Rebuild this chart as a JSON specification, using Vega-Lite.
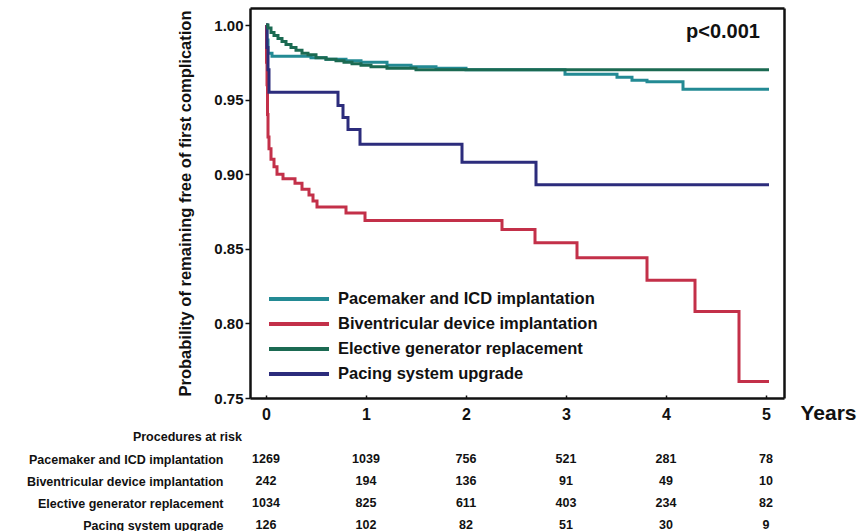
{
  "$schema": "https://vega.github.io/schema/vega-lite/v6.json",
  "background": "white",
  "padding": {"left": 26, "top": 8, "right": 5, "bottom": 0},
  "autosize": {"type": "pad"},
  "bounds": "flush",
  "spacing": 39,
  "config": {"font": "Liberation Sans", "axis": {"grid": false}, "view": {"stroke": null}},
  "datasets": {
    "curves": [
      {"group": "Pacemaker and ICD implantation", "year": 0, "prob": 1.0},
      {"group": "Pacemaker and ICD implantation", "year": 0.01, "prob": 0.99},
      {"group": "Pacemaker and ICD implantation", "year": 0.02, "prob": 0.981},
      {"group": "Pacemaker and ICD implantation", "year": 0.06, "prob": 0.979},
      {"group": "Pacemaker and ICD implantation", "year": 0.45, "prob": 0.978},
      {"group": "Pacemaker and ICD implantation", "year": 0.6, "prob": 0.977},
      {"group": "Pacemaker and ICD implantation", "year": 0.8, "prob": 0.976},
      {"group": "Pacemaker and ICD implantation", "year": 0.95, "prob": 0.975},
      {"group": "Pacemaker and ICD implantation", "year": 1.21, "prob": 0.973},
      {"group": "Pacemaker and ICD implantation", "year": 1.45, "prob": 0.972},
      {"group": "Pacemaker and ICD implantation", "year": 1.7, "prob": 0.971},
      {"group": "Pacemaker and ICD implantation", "year": 2.0, "prob": 0.97},
      {"group": "Pacemaker and ICD implantation", "year": 2.99, "prob": 0.967},
      {"group": "Pacemaker and ICD implantation", "year": 3.51, "prob": 0.965},
      {"group": "Pacemaker and ICD implantation", "year": 3.66, "prob": 0.963},
      {"group": "Pacemaker and ICD implantation", "year": 3.81, "prob": 0.962},
      {"group": "Pacemaker and ICD implantation", "year": 4.17, "prob": 0.957},
      {"group": "Pacemaker and ICD implantation", "year": 5.03, "prob": 0.957},
      {"group": "Biventricular device implantation", "year": 0, "prob": 1.0},
      {"group": "Biventricular device implantation", "year": 0.005, "prob": 0.975},
      {"group": "Biventricular device implantation", "year": 0.01, "prob": 0.96},
      {"group": "Biventricular device implantation", "year": 0.015, "prob": 0.94},
      {"group": "Biventricular device implantation", "year": 0.02, "prob": 0.925},
      {"group": "Biventricular device implantation", "year": 0.03, "prob": 0.917},
      {"group": "Biventricular device implantation", "year": 0.05, "prob": 0.91},
      {"group": "Biventricular device implantation", "year": 0.08, "prob": 0.905},
      {"group": "Biventricular device implantation", "year": 0.11, "prob": 0.9},
      {"group": "Biventricular device implantation", "year": 0.17, "prob": 0.897},
      {"group": "Biventricular device implantation", "year": 0.29, "prob": 0.894},
      {"group": "Biventricular device implantation", "year": 0.36, "prob": 0.89},
      {"group": "Biventricular device implantation", "year": 0.43, "prob": 0.886},
      {"group": "Biventricular device implantation", "year": 0.47, "prob": 0.882},
      {"group": "Biventricular device implantation", "year": 0.51, "prob": 0.878},
      {"group": "Biventricular device implantation", "year": 0.8, "prob": 0.874},
      {"group": "Biventricular device implantation", "year": 0.99, "prob": 0.869},
      {"group": "Biventricular device implantation", "year": 2.36, "prob": 0.863},
      {"group": "Biventricular device implantation", "year": 2.69, "prob": 0.854},
      {"group": "Biventricular device implantation", "year": 3.11, "prob": 0.844},
      {"group": "Biventricular device implantation", "year": 3.81, "prob": 0.829},
      {"group": "Biventricular device implantation", "year": 4.29, "prob": 0.808},
      {"group": "Biventricular device implantation", "year": 4.73, "prob": 0.761},
      {"group": "Biventricular device implantation", "year": 5.03, "prob": 0.761},
      {"group": "Pacing system upgrade", "year": 0, "prob": 1.0},
      {"group": "Pacing system upgrade", "year": 0.01, "prob": 0.985},
      {"group": "Pacing system upgrade", "year": 0.02, "prob": 0.97},
      {"group": "Pacing system upgrade", "year": 0.03, "prob": 0.955},
      {"group": "Pacing system upgrade", "year": 0.72, "prob": 0.946},
      {"group": "Pacing system upgrade", "year": 0.77, "prob": 0.938},
      {"group": "Pacing system upgrade", "year": 0.82, "prob": 0.93},
      {"group": "Pacing system upgrade", "year": 0.94, "prob": 0.92},
      {"group": "Pacing system upgrade", "year": 1.96, "prob": 0.908},
      {"group": "Pacing system upgrade", "year": 2.7, "prob": 0.893},
      {"group": "Pacing system upgrade", "year": 5.03, "prob": 0.893},
      {"group": "Elective generator replacement", "year": 0, "prob": 1.0},
      {"group": "Elective generator replacement", "year": 0.02, "prob": 0.998},
      {"group": "Elective generator replacement", "year": 0.05, "prob": 0.995},
      {"group": "Elective generator replacement", "year": 0.08, "prob": 0.993},
      {"group": "Elective generator replacement", "year": 0.12, "prob": 0.991},
      {"group": "Elective generator replacement", "year": 0.16, "prob": 0.989},
      {"group": "Elective generator replacement", "year": 0.2, "prob": 0.987},
      {"group": "Elective generator replacement", "year": 0.25, "prob": 0.985},
      {"group": "Elective generator replacement", "year": 0.3, "prob": 0.983},
      {"group": "Elective generator replacement", "year": 0.36, "prob": 0.981},
      {"group": "Elective generator replacement", "year": 0.42, "prob": 0.98},
      {"group": "Elective generator replacement", "year": 0.5, "prob": 0.978},
      {"group": "Elective generator replacement", "year": 0.6, "prob": 0.977},
      {"group": "Elective generator replacement", "year": 0.7, "prob": 0.976},
      {"group": "Elective generator replacement", "year": 0.78, "prob": 0.975},
      {"group": "Elective generator replacement", "year": 0.86, "prob": 0.974},
      {"group": "Elective generator replacement", "year": 0.95, "prob": 0.973},
      {"group": "Elective generator replacement", "year": 1.05, "prob": 0.972},
      {"group": "Elective generator replacement", "year": 1.21, "prob": 0.971},
      {"group": "Elective generator replacement", "year": 1.5, "prob": 0.97},
      {"group": "Elective generator replacement", "year": 5.03, "prob": 0.97}
    ],
    "risk": [
      {"group": "Pacemaker and ICD implantation", "year": 0, "n": 1269},
      {"group": "Pacemaker and ICD implantation", "year": 1, "n": 1039},
      {"group": "Pacemaker and ICD implantation", "year": 2, "n": 756},
      {"group": "Pacemaker and ICD implantation", "year": 3, "n": 521},
      {"group": "Pacemaker and ICD implantation", "year": 4, "n": 281},
      {"group": "Pacemaker and ICD implantation", "year": 5, "n": 78},
      {"group": "Biventricular device implantation", "year": 0, "n": 242},
      {"group": "Biventricular device implantation", "year": 1, "n": 194},
      {"group": "Biventricular device implantation", "year": 2, "n": 136},
      {"group": "Biventricular device implantation", "year": 3, "n": 91},
      {"group": "Biventricular device implantation", "year": 4, "n": 49},
      {"group": "Biventricular device implantation", "year": 5, "n": 10},
      {"group": "Elective generator replacement", "year": 0, "n": 1034},
      {"group": "Elective generator replacement", "year": 1, "n": 825},
      {"group": "Elective generator replacement", "year": 2, "n": 611},
      {"group": "Elective generator replacement", "year": 3, "n": 403},
      {"group": "Elective generator replacement", "year": 4, "n": 234},
      {"group": "Elective generator replacement", "year": 5, "n": 82},
      {"group": "Pacing system upgrade", "year": 0, "n": 126},
      {"group": "Pacing system upgrade", "year": 1, "n": 102},
      {"group": "Pacing system upgrade", "year": 2, "n": 82},
      {"group": "Pacing system upgrade", "year": 3, "n": 51},
      {"group": "Pacing system upgrade", "year": 4, "n": 30},
      {"group": "Pacing system upgrade", "year": 5, "n": 9}
    ]
  },
  "vconcat": [
    {
      "width": 534,
      "height": 390,
      "resolve": {"axis": {"x": "independent", "y": "independent"}},
      "layer": [
        {
          "data": {"name": "curves"},
          "mark": {"type": "line", "interpolate": "step-after", "strokeWidth": 3},
          "encoding": {
            "x": {
              "field": "year", "type": "quantitative",
              "scale": {"domain": [-0.16, 5.18], "nice": false, "zero": false},
              "axis": {
                "values": [0, 1, 2, 3, 4, 5], "format": "d", "labelFontSize": 16, "labelFontWeight": "bold",
                "labelColor": "#111", "tickSize": -3, "tickColor": "#111", "tickWidth": 1.5,
                "domain": true, "domainColor": "#111", "domainWidth": 2.5, "labelPadding": 11, "labelFlush": false,
                "title": "Years", "titleX": 578, "titleY": 15, "titleBaseline": "middle",
                "titleAlign": "center", "titleFontSize": 21, "titleFontWeight": "bold", "titleColor": "#111"
              }
            },
            "y": {
              "field": "prob", "type": "quantitative",
              "scale": {"domain": [0.75, 1.0114], "nice": false, "zero": false},
              "axis": {
                "values": [0.75, 0.8, 0.85, 0.9, 0.95, 1.0], "format": ".2f",
                "labelFontSize": 15, "labelFontWeight": "bold", "labelColor": "#111",
                "tickSize": 5, "tickColor": "#111", "tickWidth": 1.5, "labelPadding": 2,
                "domain": true, "domainColor": "#111", "domainWidth": 2.5,
                "title": "Probability of remaining free of first complication",
                "titleFontSize": 16.5, "titleFontWeight": "bold", "titleColor": "#111", "titlePadding": 20
              }
            },
            "color": {
              "field": "group", "type": "nominal",
              "scale": {
                "domain": ["Pacemaker and ICD implantation", "Biventricular device implantation", "Elective generator replacement", "Pacing system upgrade"],
                "range": ["#238a94", "#c33049", "#1b6a52", "#2c2c7c"]
              },
              "legend": {
                "orient": "none", "legendX": 37, "legendY": 279, "title": null,
                "symbolType": "M-3,0H3", "symbolSize": 400, "symbolStrokeWidth": 4,
                "labelFontSize": 16.5, "labelFontWeight": "bold", "labelColor": "#111",
                "labelOffset": 27, "rowPadding": 4, "padding": 0, "labelLimit": 400
              }
            }
          }
        },
        {
          "data": {"values": [{"label": "p<0.001", "year": 4.57, "prob": 0.995}]},
          "mark": {"type": "text", "fontSize": 20, "fontWeight": "bold", "color": "#111"},
          "encoding": {
            "x": {
              "field": "year", "type": "quantitative",
              "axis": {"orient": "top", "labels": false, "ticks": false, "title": null, "domain": true, "domainColor": "#111", "domainWidth": 2.5}
            },
            "y": {
              "field": "prob", "type": "quantitative",
              "axis": {"orient": "right", "labels": false, "ticks": false, "title": null, "domain": true, "domainColor": "#111", "domainWidth": 2.5}
            },
            "text": {"field": "label"}
          }
        }
      ]
    },
    {
      "width": 534,
      "height": 88,
      "layer": [
        {
          "data": {"name": "risk"},
          "mark": {"type": "text", "fontSize": 12.5, "fontWeight": "bold", "color": "#111"},
          "encoding": {
            "x": {
              "field": "year", "type": "quantitative",
              "scale": {"domain": [-0.16, 5.18], "nice": false, "zero": false},
              "axis": null
            },
            "y": {
              "field": "group", "type": "nominal",
              "scale": {
                "type": "point", "padding": 0,
                "domain": ["Procedures at risk", "Pacemaker and ICD implantation", "Biventricular device implantation", "Elective generator replacement", "Pacing system upgrade"]
              },
              "axis": {
                "title": null, "ticks": false, "domain": false, "labelPadding": 27,
                "labelFontSize": 12.5, "labelFontWeight": "bold", "labelColor": "#111", "labelLimit": 400,
                "labelExpr": "datum.value == 'Procedures at risk' ? '' : datum.value"
              }
            },
            "text": {"field": "n", "type": "quantitative"}
          }
        },
        {
          "data": {"values": [{"label": "Procedures at risk", "year": -0.24, "group": "Procedures at risk"}]},
          "mark": {"type": "text", "fontSize": 12.5, "fontWeight": "bold", "color": "#111", "align": "right"},
          "encoding": {
            "x": {"field": "year", "type": "quantitative"},
            "y": {"field": "group", "type": "nominal"},
            "text": {"field": "label"}
          }
        }
      ]
    }
  ]
}
